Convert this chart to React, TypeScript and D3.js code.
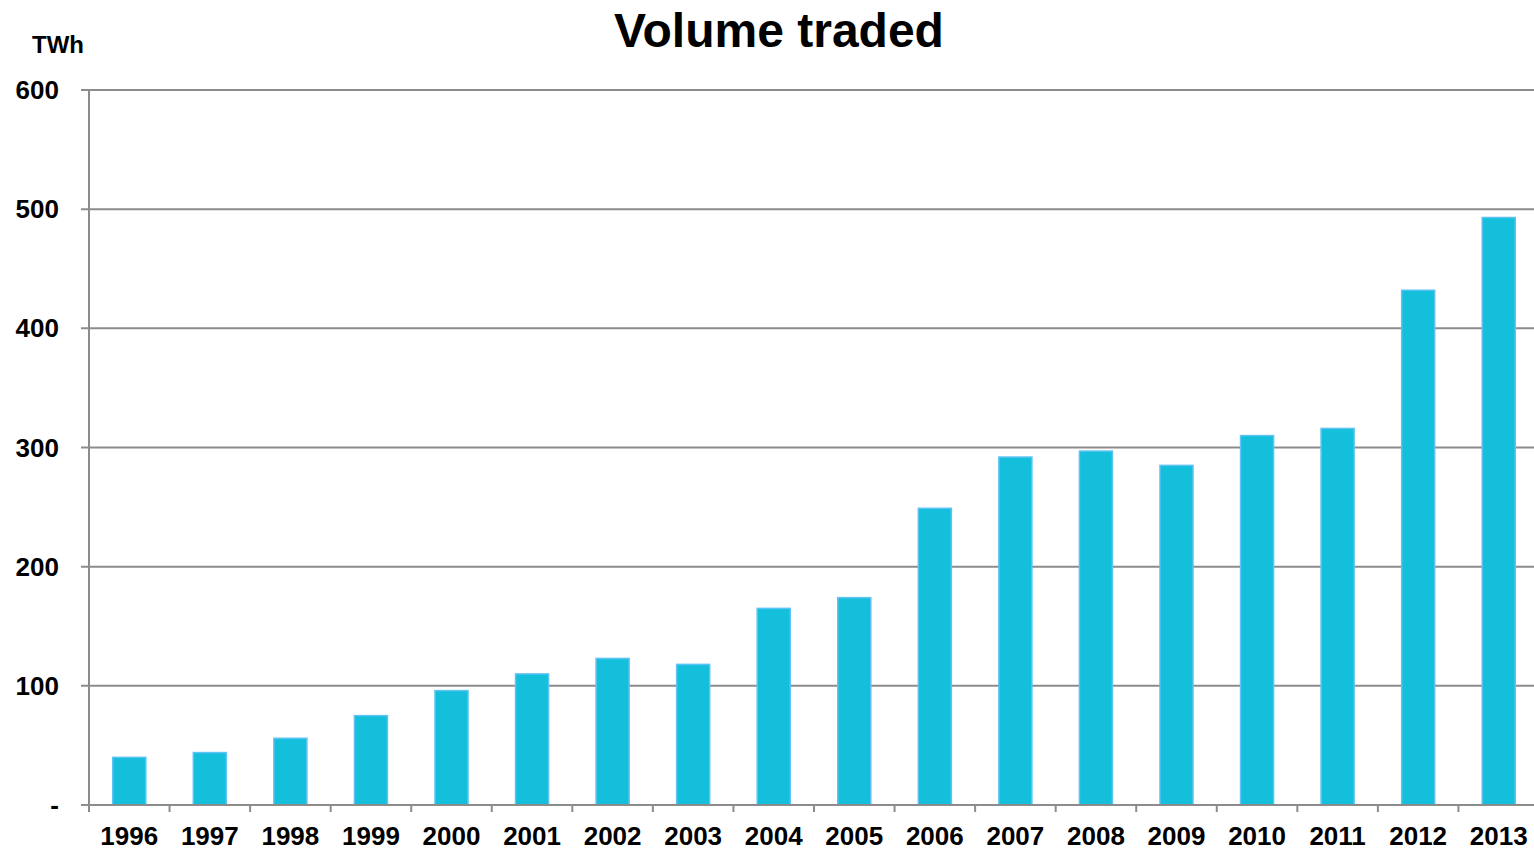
import * as d3 from "d3";

const years = ["1996", "1997", "1998", "1999", "2000", "2001", "2002", "2003", "2004", "2005", "2006", "2007", "2008", "2009", "2010", "2011", "2012", "2013"];
const volumes = [40, 44, 56, 75, 96, 110, 123, 118, 165, 174, 249, 292, 297, 285, 310, 316, 432, 493];
const yTicks = [0, 100, 200, 300, 400, 500, 600];

const width = 1534;
const height = 850;
const marginLeft = 89;
const marginTop = 90;
const plotBottom = 805;
const plotRight = 1539;

export default function App() {
    const x = d3.scaleBand<string>().domain(years).range([marginLeft, plotRight]).paddingInner(0.59).paddingOuter(0.295);
    const xb = d3.scaleBand<string>().domain(years).range([marginLeft, plotRight]);
    const y = d3.scaleLinear().domain([0, 600]).range([plotBottom, marginTop]);
    const font = "Liberation Sans, Arial, sans-serif";

    return <div style={{position: "absolute", left: 0, top: 0}}>
        <svg width={width} height={height} viewBox={`0 0 ${width} ${height}`} fontFamily={font} fontWeight="bold">
            <rect width={width} height={height} fill="white"/>
            <text x={779} y={47} fontSize={48} textAnchor="middle">Volume traded</text>
            <text x={32} y={53} fontSize={24}>TWh</text>
            {yTicks.map(t => <g key={t}>
                {t > 0 && <line x1={81} x2={width} y1={y(t)} y2={y(t)} stroke="#8c8c8c" strokeWidth={2}/>}
                <text x={59} y={y(t)} dy="0.35em" fontSize={26} textAnchor="end">{t === 0 ? "-" : t}</text>
            </g>)}
            {years.map((yr, i) => <rect key={yr}
                                         x={x(yr)}
                                         y={y(volumes[i])}
                                         width={x.bandwidth()}
                                         height={plotBottom - y(volumes[i])}
                                         fill="#14bfdb"
                                         stroke="#5cc3f2"
                                         strokeWidth={1.5}/>)}
            <line x1={marginLeft} x2={marginLeft} y1={marginTop} y2={plotBottom + 7} stroke="#8c8c8c" strokeWidth={2}/>
            <line x1={81} x2={width} y1={plotBottom} y2={plotBottom} stroke="#8c8c8c" strokeWidth={2}/>
            {years.map(yr => <line key={"t" + yr}
                                   x1={(xb(yr) as number) + xb.bandwidth()}
                                   x2={(xb(yr) as number) + xb.bandwidth()}
                                   y1={plotBottom}
                                   y2={plotBottom + 7}
                                   stroke="#8c8c8c" strokeWidth={2}/>)}
            {years.map(yr => <text key={"l" + yr}
                                   x={(xb(yr) as number) + xb.bandwidth() / 2}
                                   y={845}
                                   fontSize={26}
                                   textAnchor="middle">{yr}</text>)}
        </svg>
    </div>
}
